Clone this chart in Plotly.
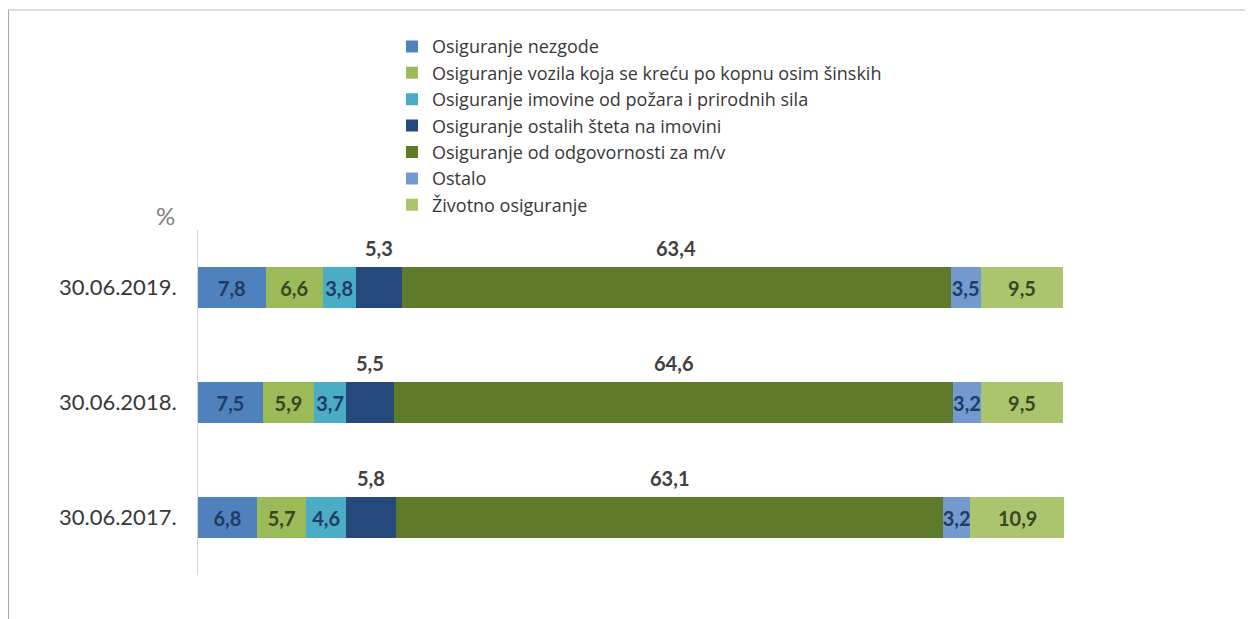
import numpy as np
import plotly.graph_objects as go

categories = ["30.06.2017.", "30.06.2018.", "30.06.2019."]
series_names = [
    "Osiguranje nezgode",
    "Osiguranje vozila koja se kreću po kopnu osim šinskih",
    "Osiguranje imovine od požara i prirodnih sila",
    "Osiguranje ostalih šteta na imovini",
    "Osiguranje od odgovornosti za m/v",
    "Ostalo",
    "Životno osiguranje",
]
nezgode = [6.8, 7.5, 7.8]
vozila = [5.7, 5.9, 6.6]
imovina_pozar = [4.6, 3.7, 3.8]
ostale_stete = [5.8, 5.5, 5.3]
odgovornost_mv = [63.1, 64.6, 63.4]
ostalo = [3.2, 3.2, 3.5]
zivotno = [10.9, 9.5, 9.5]

series_values = [nezgode, vozila, imovina_pozar, ostale_stete, odgovornost_mv, ostalo, zivotno]
colors = ["#4F81BD", "#9BBB59", "#4BACC6", "#25497A", "#5F7A2B", "#7399CF", "#ABC56F"]
text_colors = ["#1F3C66", "#3A4522", "#1F3C66", None, None, "#1F3C66", "#3A4522"]
labels_above = [False, False, False, True, True, False, False]

FONT = "Lato"
fig = go.Figure()

for name, vals, col, tcol, above in zip(series_names, series_values, colors, text_colors, labels_above):
    fig.add_trace(go.Bar(
        y=categories, x=vals, name=name, orientation="h",
        marker=dict(color=col, line=dict(width=0)),
        texttemplate=None if above else "<b>%{x:.1f}</b>",
        textposition="none" if above else "inside",
        insidetextanchor="middle",
        constraintext="none",
        textangle=0,
        textfont=dict(family=FONT, size=20, color=tcol if tcol else "#000"),
        hoverinfo="x+name",
    ))

# labels above the dark segments
cum = np.zeros(len(categories))
for vals, above in zip(series_values, labels_above):
    v = np.array(vals)
    if above:
        for i, cat in enumerate(categories):
            fig.add_annotation(
                x=cum[i] + v[i] / 2, y=cat, xref="x", yref="y",
                text="<b>" + f"{v[i]:.1f}".replace(".", ",") + "</b>",
                showarrow=False, yshift=40,
                font=dict(family=FONT, size=20, color="#404040"),
            )
    cum += v

fig.add_annotation(x=-0.038, y=1.041, xref="paper", yref="paper", text="%",
                   xanchor="center", yanchor="middle",
                   showarrow=False, font=dict(family=FONT, size=24, color="#808080"))

# frame lines
fig.add_shape(type="line", xref="paper", yref="paper", x0=-0.2194, x1=1.3, y0=1.6377, y1=1.6377,
              line=dict(color="#D0D0D0", width=1.5))
fig.add_shape(type="line", xref="paper", yref="paper", x0=-0.2194, x1=-0.2194, y0=1.6377, y1=-0.13,
              line=dict(color="#A8A8A8", width=2))

fig.update_layout(
    width=1245, height=611,
    margin=dict(l=190, r=189, t=222, b=44),
    barmode="stack", bargap=0.65,
    separators=",.",
    paper_bgcolor="white", plot_bgcolor="white",
    showlegend=True,
    legend=dict(
        x=0.224, y=1.585, xanchor="left", yanchor="top",
        traceorder="normal",
        font=dict(family="Open Sans", size=18, color="#383838"),
        bgcolor="rgba(0,0,0,0)",
    ),
    xaxis=dict(range=[0, 100], visible=False, fixedrange=True),
    yaxis=dict(
        showline=True, linecolor="#D9D9D9", linewidth=1,
        showgrid=False, ticks="", ticklabelstandoff=16,
        tickfont=dict(family=FONT, size=22, color="#383838"),
        categoryorder="array", categoryarray=categories,
    ),
    font=dict(family=FONT),
)

fig.write_html("out.html")
